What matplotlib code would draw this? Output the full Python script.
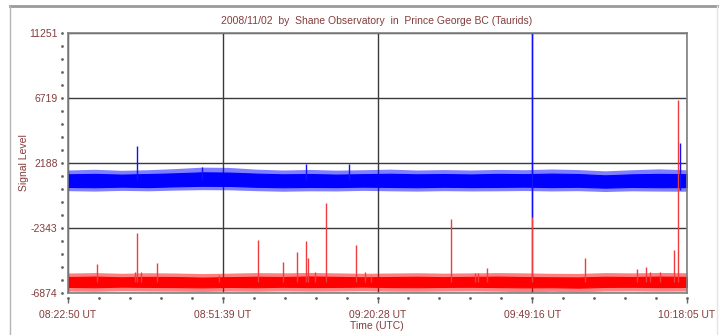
import matplotlib
matplotlib.use("Agg")
import matplotlib.pyplot as plt
from matplotlib.lines import Line2D
import numpy as np

# --- data ---
title = "2008/11/02  by  Shane Observatory  in  Prince George BC (Taurids)"
x_labels = ["08:22:50 UT", "08:51:39 UT", "09:20:28 UT", "09:49:16 UT", "10:18:05 UT"]
x_major = [0, 1729, 3458, 5186, 6915]          # seconds after 08:22:50
y_major = [-6874, -2343, 2188, 6719, 11251]

# band envelope, one value every 5 minutes (0 .. 115 min, plus end)
band_min = [0, 5, 10, 15, 20, 25, 30, 35, 40, 45, 50, 55, 60, 65, 70, 75,
            80, 85, 90, 95, 100, 105, 110, 115, 115.25]
blue_core_hi = [1400, 1430, 1380, 1420, 1470, 1540, 1520, 1450, 1400, 1420, 1380, 1410, 1440,
                1400, 1420, 1390, 1430, 1410, 1450, 1420, 1330, 1400, 1430, 1410, 1420]
blue_core_lo = [520, 500, 540, 510, 560, 600, 590, 530, 500, 520, 510, 540, 520,
                500, 530, 510, 520, 540, 510, 530, 470, 520, 500, 510, 520]
blue_out_hi = [1700, 1750, 1680, 1720, 1800, 1900, 1880, 1760, 1700, 1740, 1690, 1720, 1760,
               1700, 1730, 1700, 1740, 1720, 1770, 1730, 1640, 1720, 1780, 1720, 1700]
blue_out_lo = [260, 230, 280, 250, 300, 330, 320, 260, 220, 250, 240, 280, 250,
               230, 260, 240, 250, 270, 240, 260, 200, 250, 230, 220, 250]
red_core_hi = [-5760, -5730, -5780, -5750, -5760, -5800, -5770, -5740, -5760, -5720, -5750, -5780, -5760,
               -5740, -5770, -5750, -5730, -5760, -5780, -5790, -5740, -5760, -5730, -5750, -5760]
red_core_lo = [-6450, -6470, -6430, -6450, -6460, -6480, -6450, -6470, -6440, -6460, -6450, -6430, -6460,
               -6470, -6450, -6440, -6460, -6480, -6470, -6500, -6450, -6440, -6460, -6450, -6450]
red_out_hi = [-5480, -5450, -5500, -5460, -5480, -5520, -5490, -5450, -5470, -5440, -5470, -5500, -5480,
              -5460, -5490, -5470, -5450, -5470, -5500, -5510, -5450, -5470, -5440, -5460, -5480]
red_out_lo = [-6740, -6760, -6720, -6740, -6750, -6770, -6740, -6760, -6730, -6750, -6740, -6720, -6750,
              -6760, -6740, -6730, -6750, -6790, -6760, -6800, -6740, -6730, -6750, -6740, -6740]

# spikes: minutes after 08:22:50, top value, bottom value
blue_spike_min = [12.85, 24.95, 44.3, 52.3, 86.4, 114.0]
blue_spike_top = [3373, 1909, 2118, 2118, 11251, 3580]
blue_spike_bot = [1000, 1000, 1000, 1000, -1576, 306]

red_spike_min = [5.46, 12.4, 12.79, 13.5, 16.57, 28.1, 35.4, 40.1, 42.6, 44.3, 44.6, 46.0,
                 48.0, 53.6, 55.3, 56.5, 71.4, 75.8, 76.4, 78.1, 86.4, 96.3, 106.0, 107.7,
                 108.4, 110.2, 112.8, 113.6]
red_spike_top = [-4874, -5390, -2713, -5390, -4762, -5620, -3180, -4734, -3995, -3229, -4434, -5390,
                 -580, -3528, -5390, -5689, -1737, -5460, -5460, -5152, -1576, -4455, -5222, -5083,
                 -5431, -5431, -3877, 6580]

tick_col = "#843c3c"
plt.rcParams['font.family'] = ['Liberation Sans', 'DejaVu Sans']

fig = plt.figure(figsize=(7.25, 3.35), dpi=100)
ax = fig.add_axes([68 / 725, 1 - 293 / 335, 619 / 725, 260 / 335])

t = np.array(band_min) * 60
bmin = np.array(blue_spike_min) * 60
rmin = np.array(red_spike_min) * 60

# red trace first, blue drawn on top
ax.fill_between(t, red_out_lo, red_out_hi, color="#ff0000", alpha=0.5, lw=0)
ax.fill_between(t, red_core_lo, red_core_hi, color="#ff0000", lw=0.8)
ax.vlines(rmin, -6100, red_spike_top, color="#f03c3c", lw=1.0, snap=True)

ax.fill_between(t, blue_out_lo, blue_out_hi, color="#0000ff", alpha=0.5, lw=0)
ax.fill_between(t, blue_core_lo, blue_core_hi, color="#0000ff", lw=0.8)
ax.vlines(bmin, blue_spike_bot, blue_spike_top, color="#1010ff", lw=1.0, snap=True)

ax.set_xlim(0, 6915)
ax.set_ylim(-6874, 11251)
ax.set_xticks(x_major)
ax.set_xticklabels(x_labels)
ax.set_yticks(y_major)
ax.set_yticklabels([str(v) for v in y_major])
ax.tick_params(axis="y", length=0, pad=7.5, labelsize=7.5, labelcolor=tick_col)
ax.tick_params(axis="x", length=0, pad=12, labelsize=7.5, labelcolor=tick_col)
ax.grid(True, color="#3a3a3a", lw=1.0)
ax.set_axisbelow(True)
for s in ax.spines.values():
    s.set_color("#808080")
    s.set_linewidth(1.2)

# little dotted tick marks like the original
ytr = ax.get_yaxis_transform()
yminor = np.linspace(-6874, 11251, 21)
ax.plot(np.full(len(yminor), -0.0095), yminor, ls="none", marker="o", ms=1.0,
        color="#666666", transform=ytr, clip_on=False)
xtr = ax.get_xaxis_transform()
xminor = np.linspace(0, 6915, 21)
ax.plot(xminor, np.full(len(xminor), -0.02), ls="none", marker="o", ms=1.0,
        color="#666666", transform=xtr, clip_on=False)
ax.vlines(x_major, -0.038, -0.018, color="#666666", lw=1.0, transform=xtr, clip_on=False)

fig.text(377 / 725, 1 - 21 / 335, title, ha="center", va="center", fontsize=7.5, color=tick_col)
fig.text(377 / 725, 1 - 326 / 335, "Time (UTC)", ha="center", va="center", fontsize=7.5, color=tick_col)
fig.text(24 / 725, 1 - 163 / 335, "Signal Level", ha="center", va="center", rotation=90,
         fontsize=7.5, color=tick_col)

# window frame around the panel
fig.add_artist(Line2D([10 / 725, 717 / 725], [1 - 6 / 335] * 2, color="#9a9a9a", lw=2))
fig.add_artist(Line2D([10 / 725] * 2, [0, 1 - 6 / 335], color="#b4b4b4", lw=1))
fig.add_artist(Line2D([717 / 725] * 2, [0, 1 - 6 / 335], color="#e4e4e4", lw=1))

fig.savefig("out.png", dpi=100)
